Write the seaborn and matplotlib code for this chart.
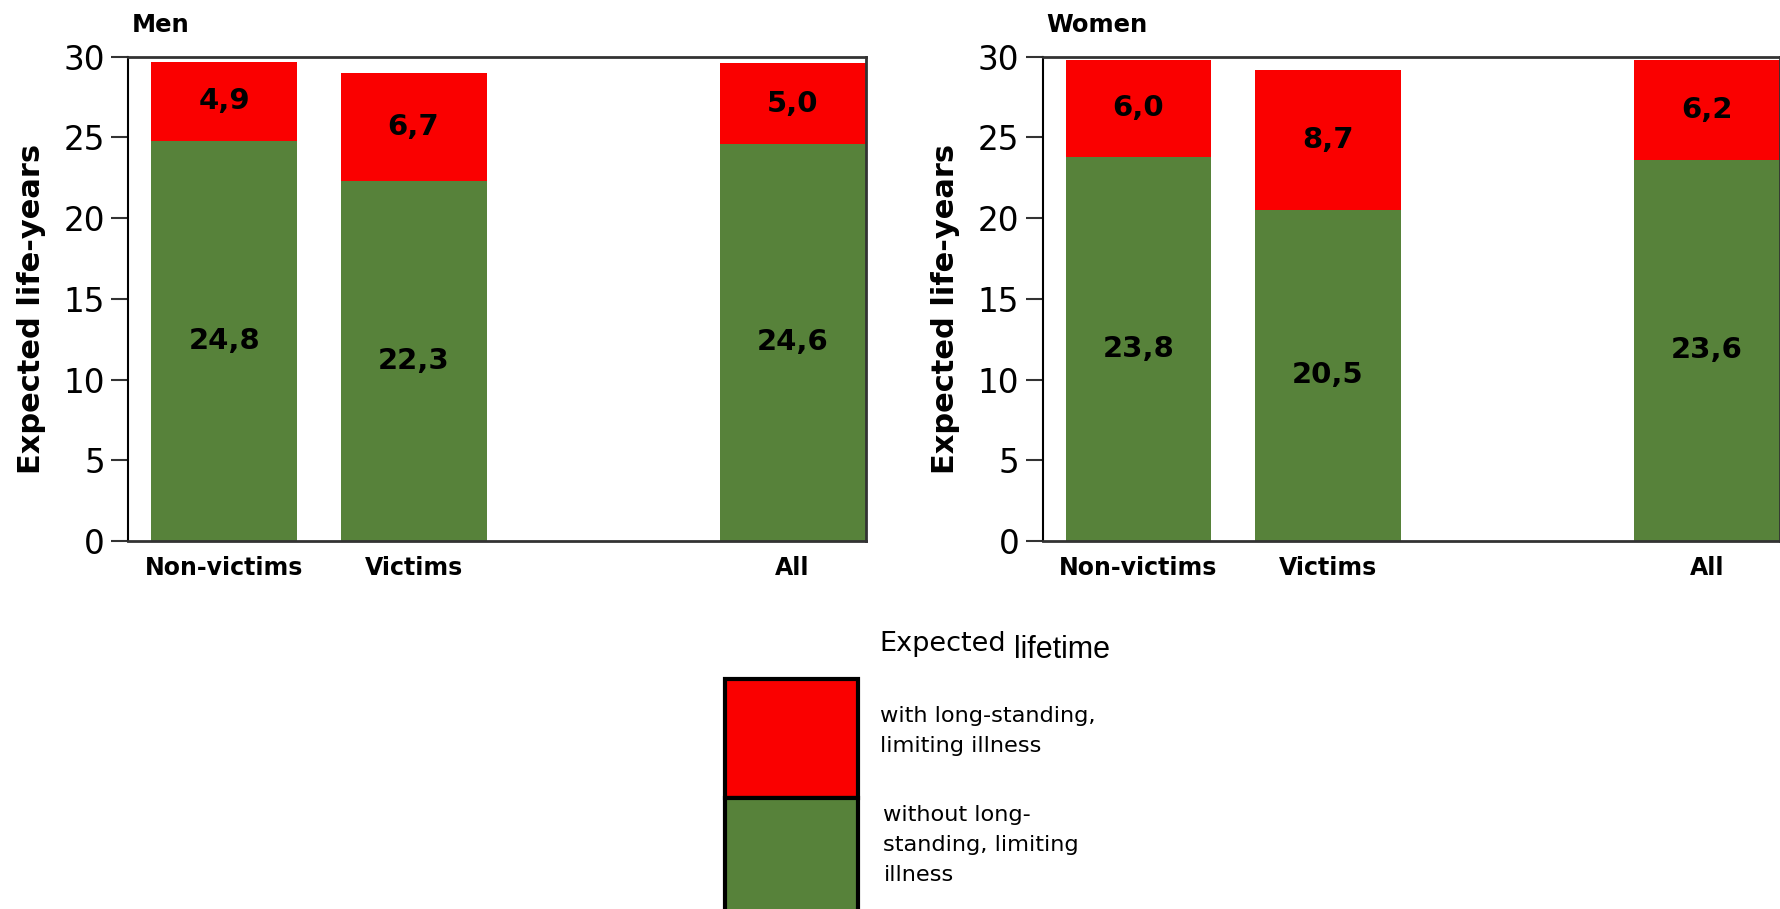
import matplotlib
matplotlib.use("Agg")
import matplotlib.pyplot as plt
import seaborn as sns
import pandas as pd
from matplotlib.patches import Rectangle

# --- data ---
groups = ["Non-victims", "Victims", "All"]
slots = ["Non-victims", "Victims", "", "All"]   # empty slot before "All"
men_without = [24.8, 22.3, 24.6]
men_with = [4.9, 6.7, 5.0]
women_without = [23.8, 20.5, 23.6]
women_with = [6.0, 8.7, 6.2]

GREEN = "#57823A"
RED = "#FA0000"
DARK = "#333333"

sns.set_theme(style="white")
plt.rcParams['font.family'] = ['DejaVu Sans']
plt.rcParams['text.color'] = 'black'
plt.rcParams['axes.labelcolor'] = 'black'
plt.rcParams['xtick.color'] = 'black'
plt.rcParams['ytick.color'] = 'black'


def fmt(v):
    return f"{v:.1f}".replace(".", ",")


def draw_panel(ax, without, with_, title):
    df = pd.DataFrame({"group": groups, "without": without, "with": with_})
    df["total"] = df["without"] + df["with"]
    sns.barplot(data=df, x="group", y="total", order=slots, color=RED,
                width=0.77, saturation=1, linewidth=0, ax=ax)
    sns.barplot(data=df, x="group", y="without", order=slots, color=GREEN,
                width=0.77, saturation=1, linewidth=0, ax=ax)

    for _, row in df.iterrows():
        pos = slots.index(row["group"])
        ax.text(pos, row["without"] / 2, fmt(row["without"]), ha="center",
                va="center", fontsize=21, fontweight="bold", color="black")
        ax.text(pos, row["without"] + row["with"] / 2, fmt(row["with"]),
                ha="center", va="center", fontsize=21, fontweight="bold",
                color="black")

    ax.set_xlim(-0.505, 3.385)
    ax.set_ylim(0, 30)
    ax.set_yticks(range(0, 31, 5))
    ax.set_xticks([slots.index(g) for g in groups])
    ax.set_xticklabels(groups, fontsize=17, fontweight="bold")
    ax.tick_params(axis="x", length=0, pad=11)
    ax.tick_params(axis="y", direction="out", length=12, width=1.5,
                   color=DARK, labelsize=23.5, pad=5, left=True)
    ax.set_xlabel("")
    ax.set_ylabel("Expected life-years", fontsize=22, fontweight="bold")
    ax.yaxis.set_label_coords(-0.112, 0.479)
    for side in ["top", "bottom", "right"]:
        ax.spines[side].set_color(DARK)
        ax.spines[side].set_linewidth(2)
        ax.spines[side].set_visible(True)
    ax.spines["left"].set_color("black")
    ax.spines["left"].set_linewidth(1.5)
    ax.text(0.005, 1.066, title, transform=ax.transAxes, fontsize=17.5,
            fontweight="bold", ha="left", va="center")


fig = plt.figure(figsize=(17.81, 9.09))
ax1 = fig.add_axes([0.0721, 0.405, 0.4139, 0.5325])
ax2 = fig.add_axes([0.5855, 0.405, 0.4139, 0.5325])
draw_panel(ax1, men_without, men_with, "Men")
draw_panel(ax2, women_without, women_with, "Women")

# --- hand-made legend ---
lg = fig.add_axes([0, 0, 1, 1])
lg.set_xlim(0, 1)
lg.set_ylim(0, 1)
lg.axis("off")
lg.add_patch(Rectangle((0.4069, 0.1225), 0.0746, 0.13, facecolor=RED,
                       edgecolor="black", linewidth=3))
lg.add_patch(Rectangle((0.4069, -0.05), 0.0746, 0.1725, facecolor=GREEN,
                       edgecolor="black", linewidth=3))
lg.text(0.494, 0.284, "Expected", fontsize=19.5, ha="left", va="baseline")
lg.text(0.5695, 0.276, "lifetime", fontsize=22, ha="left", va="baseline",
        family=["Liberation Sans", "DejaVu Sans"])
lg.text(0.494, 0.223, "with long-standing,\nlimiting illness", fontsize=16.2,
        ha="left", va="top", linespacing=1.62)
lg.text(0.496, 0.114, "without long-\nstanding, limiting\nillness", fontsize=16.2,
        ha="left", va="top", linespacing=1.62)

fig.savefig("out.png", dpi=100)
plt.close(fig)
